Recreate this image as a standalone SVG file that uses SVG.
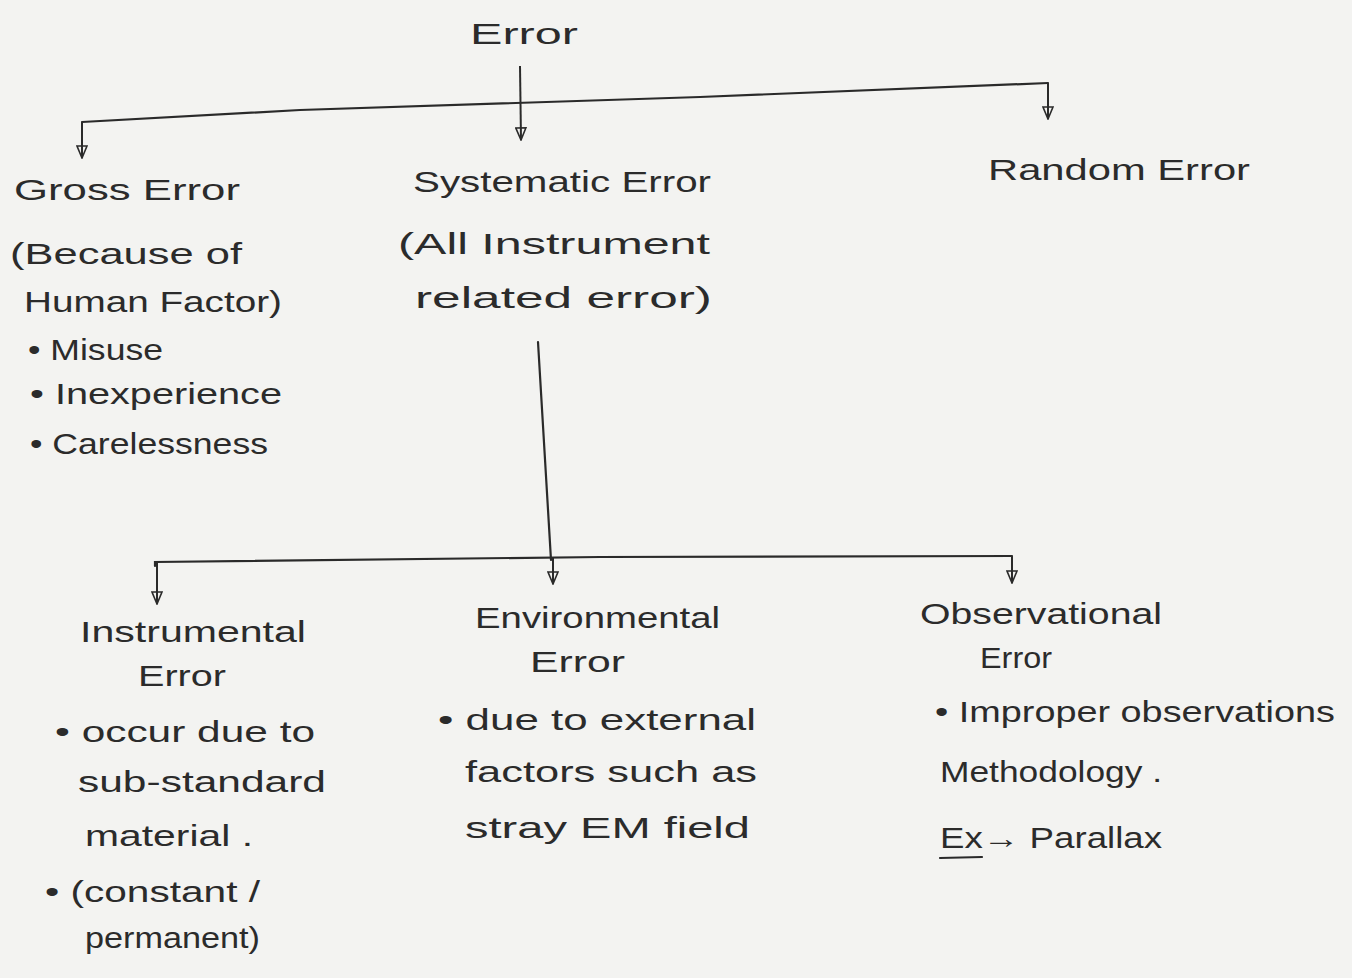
<svg xmlns="http://www.w3.org/2000/svg" width="1352" height="978" viewBox="0 0 1352 978">
<defs>
<marker id="arr" viewBox="0 0 14 12" refX="13" refY="6" markerWidth="14" markerHeight="12" markerUnits="userSpaceOnUse" orient="auto">
<path d="M1,1 L13,6 L1,11 Z" fill="none" stroke="#2a2a2a" stroke-width="1.6"/>
</marker>
<style>
.t{font-family:"Liberation Sans","DejaVu Sans",sans-serif;font-size:29px;fill:#2b2b2b}
.ln{fill:none;stroke:#2a2a2a;stroke-width:2.2;stroke-linecap:round}
.ar{fill:none;stroke:#2a2a2a;stroke-width:2;marker-end:url(#arr)}
</style>
</defs>
<rect width="1352" height="978" fill="#f3f3f1"/>
<g id="connectors">
<path class="ar" d="M520,66 L521,140"/>
<path class="ln" d="M82,122 L300,110 L700,97 L1048,83"/>
<path class="ar" d="M82,122 L82,158"/>
<path class="ar" d="M1048,83 L1048,119"/>
<path class="ln" d="M538,342 L551,560"/>
<path class="ln" d="M155,566 L155,562 L600,557 L1012,556"/>
<path class="ar" d="M553,558 L553,584"/>
<path class="ar" d="M157,563 L157,604"/>
<path class="ar" d="M1012,556 L1012,583"/>
</g>
<g id="error"><text class="t" x="470" y="44" textLength="108" lengthAdjust="spacingAndGlyphs">Error</text></g>
<g id="gross">
<text class="t" x="14" y="200" textLength="226" lengthAdjust="spacingAndGlyphs">Gross Error</text>
<text class="t" x="10" y="264" textLength="232" lengthAdjust="spacingAndGlyphs">(Because of</text>
<text class="t" x="24" y="312" textLength="258" lengthAdjust="spacingAndGlyphs">Human Factor)</text>
<text class="t" x="28" y="360" textLength="135" lengthAdjust="spacingAndGlyphs">• Misuse</text>
<text class="t" x="30" y="404" textLength="252" lengthAdjust="spacingAndGlyphs">• Inexperience</text>
<text class="t" x="30" y="454" textLength="238" lengthAdjust="spacingAndGlyphs">• Carelessness</text>
</g>
<g id="systematic">
<text class="t" x="413" y="192" textLength="298" lengthAdjust="spacingAndGlyphs">Systematic Error</text>
<text class="t" x="398" y="254" textLength="312" lengthAdjust="spacingAndGlyphs">(All Instrument</text>
<text class="t" x="415" y="308" textLength="297" lengthAdjust="spacingAndGlyphs">related error)</text>
</g>
<g id="random"><text class="t" x="988" y="180" textLength="262" lengthAdjust="spacingAndGlyphs">Random Error</text></g>
<g id="instrumental">
<text class="t" x="80" y="642" textLength="226" lengthAdjust="spacingAndGlyphs">Instrumental</text>
<text class="t" x="138" y="686" textLength="88" lengthAdjust="spacingAndGlyphs">Error</text>
<text class="t" x="55" y="742" textLength="260" lengthAdjust="spacingAndGlyphs">• occur due to</text>
<text class="t" x="78" y="792" textLength="248" lengthAdjust="spacingAndGlyphs">sub-standard</text>
<text class="t" x="85" y="846" textLength="168" lengthAdjust="spacingAndGlyphs">material .</text>
<text class="t" x="45" y="902" textLength="215" lengthAdjust="spacingAndGlyphs">• (constant /</text>
<text class="t" x="85" y="948" textLength="175" lengthAdjust="spacingAndGlyphs">permanent)</text>
</g>
<g id="environmental">
<text class="t" x="475" y="628" textLength="245" lengthAdjust="spacingAndGlyphs">Environmental</text>
<text class="t" x="530" y="672" textLength="95" lengthAdjust="spacingAndGlyphs">Error</text>
<text class="t" x="438" y="730" textLength="318" lengthAdjust="spacingAndGlyphs">• due to external</text>
<text class="t" x="465" y="782" textLength="292" lengthAdjust="spacingAndGlyphs">factors such as</text>
<text class="t" x="465" y="838" textLength="285" lengthAdjust="spacingAndGlyphs">stray EM field</text>
</g>
<g id="observational">
<text class="t" x="920" y="624" textLength="242" lengthAdjust="spacingAndGlyphs">Observational</text>
<text class="t" x="980" y="668" textLength="72" lengthAdjust="spacingAndGlyphs">Error</text>
<text class="t" x="935" y="722" textLength="400" lengthAdjust="spacingAndGlyphs">• Improper observations</text>
<text class="t" x="940" y="782" textLength="222" lengthAdjust="spacingAndGlyphs">Methodology .</text>
<text class="t" x="940" y="848" textLength="222" lengthAdjust="spacingAndGlyphs">Ex→ Parallax</text>
<path class="ln" d="M940,858 L982,857" stroke-width="1.8"/>
</g>
</svg>
